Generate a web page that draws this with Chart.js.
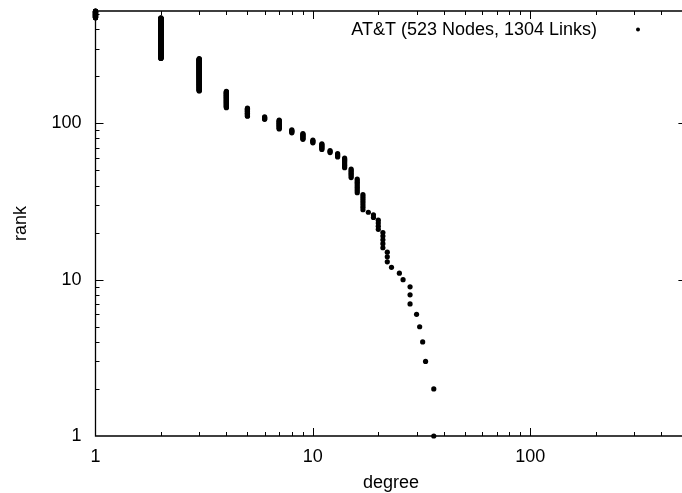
<!DOCTYPE html>
<html><head><meta charset="utf-8">
<script src="https://cdn.jsdelivr.net/npm/chart.js@4/dist/chart.umd.min.js"></script>
<style>html,body{margin:0;padding:0;overflow:hidden;background:#fff;width:682px;height:493px}canvas{display:block}</style>
</head><body><canvas id="c" width="689" height="493"></canvas>
<script>
const seriesLabel = 'AT&T (523 Nodes, 1304 Links)';
const xTitle = 'degree';
const yTitle = 'rank';
// degree distribution, sorted by degree (descending) -> rank order
const degrees    = [36, 33, 32, 31, 30, 28, 26, 25, 23, 22, 21, 20, 19, 18, 17, 16, 15, 14, 13, 12, 11, 10, 9, 8, 7, 6, 5, 4, 3, 2, 1];
const nodeCounts = [ 2,  1,  1,  1,  1,  3,  1,  1,  1,  3,  5,  4,  2,  1,  8,  9,  7,  9,  4,  3,  7,  4, 8, 5, 14, 5, 15, 35, 99, 213, 51];
const xRange = [1, 523];
const yRange = [1, 523];
const majorTicks = [1, 10, 100];
const minorTicks = [2, 3, 4, 5, 6, 7, 8, 9, 20, 30, 40, 50, 60, 70, 80, 90, 200, 300, 400, 500];

const points = [];
let rank = 1;
degrees.forEach((d, i) => {
  for (let k = 0; k < nodeCounts[i]; k++) { points.push({ x: d, y: rank }); rank++; }
});

const FONT = 'Liberation Sans, Arial, Helvetica, sans-serif';
Chart.defaults.font.family = FONT;
Chart.defaults.color = '#000';

const framePlugin = {
  id: 'frame',
  afterDraw(chart) {
    const ctx = chart.ctx, a = chart.chartArea;
    const xs = chart.scales.x, ys = chart.scales.y;
    ctx.save();
    ctx.strokeStyle = '#000';
    ctx.lineWidth = 1.3;
    ctx.beginPath();
    ctx.rect(a.left, a.top, a.right - a.left, a.bottom - a.top);
    ctx.stroke();
    ctx.lineWidth = 1;
    ctx.beginPath();
    const tick = (vals, len) => {
      vals.forEach(v => {
        const px = Math.round(xs.getPixelForValue(v)) + 0.5;
        if (px > a.left + 1 && px < a.right - 1) {
          ctx.moveTo(px, a.bottom); ctx.lineTo(px, a.bottom - len);
          ctx.moveTo(px, a.top); ctx.lineTo(px, a.top + len);
        }
        const py = Math.round(ys.getPixelForValue(v)) + 0.5;
        if (py > a.top + 1 && py < a.bottom - 1) {
          ctx.moveTo(a.left, py); ctx.lineTo(a.left + len, py);
          ctx.moveTo(a.right, py); ctx.lineTo(a.right - len, py);
        }
      });
    };
    tick(majorTicks, 8);
    tick(minorTicks, 4);
    ctx.stroke();
    // legend (gnuplot style: text then sample)
    const ds = chart.data.datasets[0];
    ctx.font = '18px ' + FONT;
    ctx.fillStyle = '#000';
    ctx.textAlign = 'right';
    ctx.textBaseline = 'middle';
    ctx.fillText(ds.label, 597, 30);
    ctx.beginPath();
    ctx.arc(638, 29.5, 2, 0, Math.PI * 2);
    ctx.fill();
    ctx.restore();
  }
};

new Chart(document.getElementById('c'), {
  type: 'scatter',
  data: {
    datasets: [{
      label: seriesLabel,
      data: points,
      pointRadius: 2.6,
      pointHoverRadius: 2.6,
      pointBackgroundColor: '#000',
      pointBorderWidth: 0,
      borderColor: '#000',
      showLine: false,
      clip: false
    }]
  },
  options: {
    responsive: false,
    animation: false,
    devicePixelRatio: 1,
    layout: { padding: { top: 11, right: 1, left: 0, bottom: 0 } },
    plugins: { legend: { display: false }, tooltip: { enabled: false } },
    scales: {
      x: {
        type: 'logarithmic',
        min: xRange[0], max: xRange[1],
        afterFit: s => { s.height = 57; s.paddingLeft = 0; s.paddingRight = 0; },
        afterBuildTicks: s => { s.ticks = majorTicks.map(v => ({ value: v })); },
        ticks: { font: { size: 18 }, padding: 10, maxRotation: 0, autoSkip: false, callback: v => String(v) },
        grid: { display: false, drawTicks: false },
        border: { display: false },
        title: { display: true, text: xTitle, font: { size: 18, lineHeight: 1 }, padding: { top: 0, bottom: 0.5 } }
      },
      y: {
        type: 'logarithmic',
        min: yRange[0], max: yRange[1],
        afterFit: s => { s.width = 95.5; s.paddingTop = 0; s.paddingBottom = 0; },
        afterBuildTicks: s => { s.ticks = majorTicks.map(v => ({ value: v })); },
        ticks: { font: { size: 18 }, padding: 14, autoSkip: false, callback: v => String(v) },
        grid: { display: false, drawTicks: false },
        border: { display: false },
        title: { display: true, text: yTitle, font: { size: 18 }, padding: { top: 10, bottom: 0 } }
      }
    }
  },
  plugins: [framePlugin]
});
</script>
</body></html>
